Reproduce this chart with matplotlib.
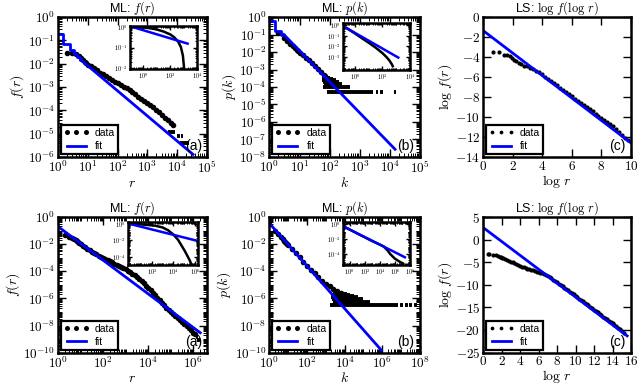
import matplotlib.pyplot as plt
import numpy as np
from matplotlib.ticker import FuncFormatter, FixedLocator, LogLocator, MultipleLocator

plt.rcParams["mathtext.fontset"] = "cm"
plt.rcParams["font.family"] = "Liberation Sans"

# ---- data (log10 values unless noted) ----
# top row, ML f(r)
a1_r = [0.30, 0.48, 0.60, 0.70, 0.78, 0.85, 0.90, 0.95, 1.00, 1.10, 1.20, 1.30, 1.40,
        1.50, 1.60, 1.70, 1.80, 1.90, 2.00, 2.10, 2.20, 2.30, 2.40, 2.50, 2.60, 2.70,
        2.80, 2.90, 3.00, 3.10, 3.20, 3.30, 3.40, 3.50, 3.60, 3.70, 3.80, 3.85]
a1_f = [-1.53, -1.55, -1.60, -1.68, -1.76, -1.84, -1.92, -1.98, -2.04, -2.12, -2.20,
        -2.29, -2.38, -2.46, -2.54, -2.62, -2.70, -2.77, -2.84, -2.91, -2.98, -3.05,
        -3.14, -3.23, -3.32, -3.41, -3.50, -3.59, -3.68, -3.78, -3.87, -3.98, -4.09,
        -4.20, -4.31, -4.43, -4.55, -4.62]
a1_tail_f = [-4.94, -5.08, -5.08, -5.40, -5.40, -5.40]
a1_tail_lo = [3.70, 4.00, 4.12, 4.10, 4.20, 4.30]
a1_tail_hi = [3.93, 4.08, 4.20, 4.18, 4.28, 4.38]
a1_fit_r = [1, 2, 3, 4, 5, 6, 34000]
a1_fit_f = [-0.72, -1.15, -1.42, -1.60, -1.73, -1.85, -5.89]

# top row, ML p(k)
b1_k = [0.30, 0.48, 0.60, 0.70, 0.78, 0.85, 0.90, 0.95, 1.00, 1.10, 1.20, 1.30, 1.40,
        1.50, 1.60, 1.70, 1.80, 1.85]
b1_p = [-0.92, -1.20, -1.38, -1.52, -1.65, -1.78, -1.86, -1.95, -2.03, -2.18, -2.33,
        -2.48, -2.63, -2.80, -2.97, -3.12, -3.30, -3.40]
b1_rows_p = [-4.30, -4.30, -4.30, -4.30, -4.00, -3.82, -3.70, -3.60, -3.52, -3.46]
b1_rows_lo = [1.90, 3.55, 3.68, 4.14, 1.79, 1.80, 1.78, 1.75, 1.75, 1.75]
b1_rows_hi = [3.45, 3.62, 3.78, 4.20, 2.67, 2.40, 2.30, 2.20, 2.10, 2.00]
b1_fit_k = [1, 2, 3, 15000]
b1_fit_p = [-0.25, -0.78, -1.00, -7.56]

# top row, LS (natural log)
c1_x = [0.69, 1.10, 1.39, 1.61, 1.79, 1.95, 2.08, 2.2, 2.4, 2.6, 2.8, 3.0, 3.2, 3.4,
        3.6, 3.8, 4.0, 4.2, 4.4, 4.6, 4.8, 5.0, 5.2, 5.4, 5.6, 5.8, 6.0, 6.2, 6.4, 6.6,
        6.8, 7.0, 7.2, 7.4, 7.6, 7.8, 8.0, 8.2, 8.4, 8.6, 8.8, 9.0, 9.2, 9.4, 9.6, 9.8]
c1_y = [-3.45, -3.45, -3.75, -3.80, -3.90, -4.10, -4.25, -4.35, -4.55, -4.70, -4.85,
        -4.90, -5.05, -5.20, -5.38, -5.55, -5.75, -5.97, -6.19, -6.41, -6.63, -6.85,
        -7.07, -7.29, -7.51, -7.73, -7.95, -8.17, -8.39, -8.61, -8.83, -9.05, -9.25,
        -9.45, -9.66, -9.86, -10.06, -10.27, -10.48, -10.70, -10.95, -11.20, -11.50,
        -11.80, -12.15, -12.35]
c1_fit_x = [0.0, 10.0]
c1_fit_y = [-1.35, -12.6]

# bottom row, ML f(r)
a2_r = [0.0, 0.30, 0.48, 0.60, 0.70, 0.78, 0.85, 0.90, 0.95, 1.0, 1.1, 1.2, 1.3, 1.4,
        1.5, 1.6, 1.7, 1.8, 1.9, 2.0, 2.1, 2.2, 2.3, 2.4, 2.5, 2.6, 2.7, 2.8, 2.9, 3.0,
        3.1, 3.2, 3.3, 3.4, 3.5, 3.6, 3.7, 3.8, 3.9, 4.0, 4.1, 4.2, 4.3, 4.4, 4.5, 4.6,
        4.7, 4.8, 4.9, 5.0, 5.1, 5.2, 5.3, 5.4, 5.5, 5.6, 5.7, 5.8, 5.9, 6.0, 6.05]
a2_f = [-1.15, -1.33, -1.45, -1.55, -1.64, -1.72, -1.80, -1.86, -1.92, -1.98, -2.12,
        -2.24, -2.35, -2.45, -2.55, -2.65, -2.75, -2.84, -2.93, -3.02, -3.10, -3.19,
        -3.27, -3.35, -3.43, -3.52, -3.60, -3.69, -3.77, -3.86, -3.95, -4.06, -4.17,
        -4.29, -4.42, -4.57, -4.72, -4.88, -5.05, -5.22, -5.40, -5.58, -5.77, -5.96,
        -6.15, -6.34, -6.52, -6.69, -6.85, -7.00, -7.15, -7.30, -7.45, -7.60, -7.75,
        -7.90, -8.05, -8.20, -8.35, -8.52, -8.60]
a2_tail_f = [-8.85, -9.04]
a2_tail_lo = [6.10, 6.15]
a2_tail_hi = [6.20, 6.30]
a2_fit_r = [1, 2.0e6]
a2_fit_f = [-0.70, -8.53]

# bottom row, ML p(k)
b2_k = [0.0, 0.30, 0.48, 0.60, 0.70, 0.78, 0.85, 0.90, 0.95, 1.0, 1.2, 1.4, 1.6, 1.8,
        2.0, 2.2, 2.4, 2.6, 2.8, 3.0, 3.2, 3.4, 3.6, 3.8]
b2_p = [-0.55, -1.00, -1.28, -1.46, -1.62, -1.74, -1.85, -1.93, -2.00, -2.08, -2.38,
        -2.68, -2.98, -3.28, -3.58, -3.88, -4.15, -4.42, -4.68, -4.92, -5.12, -5.30,
        -5.45, -5.58]
b2_rows_p = [-6.50, -6.50, -6.50, -6.50, -6.50, -6.26, -6.02, -5.90, -5.80, -5.72, -5.65]
b2_rows_lo = [3.20, 6.95, 7.20, 7.45, 7.70, 3.40, 3.35, 3.30, 3.30, 3.35, 3.40]
b2_rows_hi = [6.85, 7.10, 7.35, 7.60, 7.85, 5.35, 5.00, 4.70, 4.50, 4.30, 4.10]
b2_fit_k = [1, 8.9e5]
b2_fit_p = [-0.47, -9.81]

# bottom row, LS (natural log)
c2_x = [0.54, 0.69, 1.10, 1.39, 1.61, 1.79, 1.95, 2.08, 2.2, 2.4, 2.6, 2.8, 3.0, 3.2,
        3.4, 3.6, 3.8, 4.0, 4.2, 4.4, 4.6, 4.8, 5.0, 5.2, 5.4, 5.6, 5.8, 6.0, 6.2, 6.4,
        6.6, 6.8, 7.0, 7.2, 7.4, 7.6, 7.8, 8.0, 8.2, 8.4, 8.6, 8.8, 9.0, 9.2, 9.4, 9.6,
        9.8, 10.0, 10.2, 10.4, 10.6, 10.8, 11.0, 11.2, 11.4, 11.6, 11.8, 12.0, 12.2,
        12.4, 12.6, 12.8, 13.0, 13.2, 13.4, 13.6, 13.8, 14.0, 14.2, 14.4, 14.6, 14.8,
        15.0, 15.2]
c2_y = [-3.10, -3.20, -3.35, -3.45, -3.60, -3.75, -3.90, -4.00, -4.10, -4.30, -4.48,
        -4.66, -4.84, -5.02, -5.20, -5.40, -5.60, -5.80, -5.98, -6.14, -6.30, -6.45,
        -6.58, -6.70, -6.82, -6.94, -7.06, -7.18, -7.32, -7.48, -7.66, -7.86, -8.08,
        -8.32, -8.58, -8.85, -9.13, -9.42, -9.72, -10.02, -10.32, -10.62, -10.92,
        -11.22, -11.52, -11.82, -12.12, -12.42, -12.72, -13.02, -13.32, -13.62, -13.94,
        -14.24, -14.55, -14.85, -15.16, -15.46, -15.77, -16.08, -16.38, -16.69, -17.00,
        -17.30, -17.62, -17.92, -18.23, -18.54, -18.85, -19.16, -19.46, -19.80, -20.20,
        -20.60]
c2_fit_x = [0.0, 15.58]
c2_fit_y = [2.69, -21.28]

# insets: complementary cumulative curves (log10)
ia1_x = [-0.96, 0.0, 0.5, 1.0, 1.5, 2.0, 2.3, 2.6, 2.8, 2.95, 3.05]
ia1_y = [0.0, -0.02, -0.06, -0.12, -0.22, -0.36, -0.50, -0.72, -0.98, -1.40, -2.10]
ia1_fit_x = [-0.75, 3.3]
ia1_fit_y = [-0.01, -0.81]
ib1_x = [-0.59, 0.0, 0.5, 1.0, 1.5, 2.0, 2.3, 2.5, 2.7, 2.75]
ib1_y = [-0.30, -0.78, -1.22, -1.65, -2.10, -2.62, -3.00, -3.30, -3.70, -3.85]
ib1_fit_x = [-0.59, 3.15]
ib1_fit_y = [-0.29, -3.04]
ia2_x = [-0.04, 1.0, 2.28, 3.0, 3.52, 4.0, 4.45, 5.07, 5.54, 5.7]
ia2_y = [0.0, -0.08, -0.23, -0.45, -0.80, -1.30, -1.96, -3.30, -4.46, -5.0]
ia2_fit_x = [-0.04, 6.28]
ia2_fit_y = [-0.03, -2.08]
ib2_x = [-0.64, 1.0, 2.0, 3.0, 4.0, 4.5, 5.0, 5.4, 6.0, 6.7, 7.1]
ib2_y = [-0.41, -1.25, -1.75, -2.25, -2.70, -2.95, -3.45, -3.97, -4.56, -5.0, -5.2]
ib2_fit_x = [-0.64, 7.32]
ib2_fit_y = [-0.41, -4.37]


def p10(v):
    return 10.0 ** np.asarray(v, dtype=float)


def log_fmt(v, pos):
    return r"$10^{%d}$" % round(np.log10(v))


def lin_fmt(v, pos):
    return r"$%d$" % round(v)


def frame(ax, size=9.5, major=6, minor=3, lw=1.8, pad=2.0):
    ax.tick_params(which="both", direction="in", top=True, right=True,
                   labelsize=size, pad=pad)
    ax.tick_params(which="major", length=major, width=1)
    ax.tick_params(which="minor", length=minor, width=0.7)
    for s in ax.spines.values():
        s.set_linewidth(lw)


def log_axes(ax, xlim, ylim, xbase, ybase, xticks=None, yticks=None):
    ax.set_xscale("log")
    ax.set_yscale("log")
    ax.set_xlim(xlim)
    ax.set_ylim(ylim)
    for axis, base, ticks in ((ax.xaxis, xbase, xticks), (ax.yaxis, ybase, yticks)):
        if ticks is None:
            axis.set_major_locator(LogLocator(base=base, numticks=30))
        else:
            axis.set_major_locator(FixedLocator(ticks))
        axis.set_minor_locator(LogLocator(base=10, subs=np.arange(1, 10), numticks=100))
        axis.set_major_formatter(FuncFormatter(log_fmt))
        axis.set_minor_formatter(plt.NullFormatter())


def data_plot(ax, x, y, ms=4.0):
    return ax.plot(x, y, "o", color="black", ms=ms, mew=0, label="data")


def rows(ax, lvl, lo, hi, lw=2.8):
    ax.hlines(lvl, lo, hi, color="black", lw=lw)


def legend(ax):
    lg = ax.legend(loc="lower left", fontsize=7.5, numpoints=3, fancybox=False,
                   framealpha=1, edgecolor="black", borderaxespad=0.25,
                   handlelength=2.4, borderpad=0.3, labelspacing=0.3,
                   handletextpad=0.6, markerscale=0.9)
    lg.get_frame().set_linewidth(1.6)


def labels(ax, title, xl, yl):
    ax.set_title(title, fontsize=9, pad=1.5)
    ax.set_xlabel(xl, fontsize=10, labelpad=0)
    ax.set_ylabel(yl, fontsize=10, labelpad=1)


def tag(ax, s):
    ax.text(0.965, 0.03, s, transform=ax.transAxes, ha="right", va="bottom", fontsize=10)


def inset(fig, rect, cx, cy, fx, fy, xlim, ylim, xticks, yticks):
    ia = fig.add_axes(rect)
    ia.plot(p10(cx), p10(cy), color="black", lw=1.8)
    ia.plot(p10(fx), p10(fy), color="blue", lw=1.8)
    log_axes(ia, xlim, ylim, 10, 10, xticks, yticks)
    frame(ia, size=4.5, major=3, minor=1.5, lw=1.8, pad=1.5)
    return ia


fig = plt.figure(figsize=(6.4, 3.91), dpi=100)

col_l = [0.0906, 0.421, 0.7547]
col_w = [0.2328, 0.235, 0.2313]
row_b = [0.5985, 0.0980]
row_h = [0.3580, 0.3470]

# ---- top row ----
ax = fig.add_axes([col_l[0], row_b[0], col_w[0], row_h[0]])
data_plot(ax, p10(a1_r), p10(a1_f))
rows(ax, p10(a1_tail_f), p10(a1_tail_lo), p10(a1_tail_hi))
ax.step(a1_fit_r[:6], p10(a1_fit_f[:6]), where="mid", color="blue", lw=2, label="fit")
ax.plot(a1_fit_r[5:], p10(a1_fit_f[5:]), color="blue", lw=2)
log_axes(ax, (1, 1e5), (1e-6, 1), 10, 10)
frame(ax)
labels(ax, r"ML: $f(r)$", r"$r$", r"$f(r)$")
legend(ax)
tag(ax, "(a)")

ax = fig.add_axes([col_l[1], row_b[0], col_w[1], row_h[0]])
data_plot(ax, p10(b1_k), p10(b1_p))
rows(ax, p10(b1_rows_p), p10(b1_rows_lo), p10(b1_rows_hi))
ax.step(b1_fit_k[:3], p10(b1_fit_p[:3]), where="mid", color="blue", lw=2, label="fit")
ax.plot(b1_fit_k[2:], p10(b1_fit_p[2:]), color="blue", lw=2)
log_axes(ax, (1, 1e5), (1e-8, 1), 10, 10)
frame(ax)
labels(ax, r"ML: $p(k)$", r"$k$", r"$p(k)$")
legend(ax)
tag(ax, "(b)")

ax = fig.add_axes([col_l[2], row_b[0], col_w[2], row_h[0]])
data_plot(ax, c1_x, c1_y, ms=3.0)
ax.plot(c1_fit_x, c1_fit_y, color="blue", lw=2, label="fit")
ax.set_xlim(0, 10)
ax.set_ylim(-14, 0)
ax.xaxis.set_major_locator(MultipleLocator(2))
ax.yaxis.set_major_locator(MultipleLocator(2))
ax.xaxis.set_major_formatter(FuncFormatter(lin_fmt))
ax.yaxis.set_major_formatter(FuncFormatter(lin_fmt))
frame(ax)
labels(ax, r"LS: $\log\,f(\log\,r)$", r"$\log\,r$", r"$\log\,f(r)$")
legend(ax)
tag(ax, "(c)")

# ---- bottom row ----
ax = fig.add_axes([col_l[0], row_b[1], col_w[0], row_h[1]])
data_plot(ax, p10(a2_r), p10(a2_f))
rows(ax, p10(a2_tail_f), p10(a2_tail_lo), p10(a2_tail_hi))
ax.plot(a2_fit_r, p10(a2_fit_f), color="blue", lw=2, label="fit")
log_axes(ax, (1, 10 ** 6.6), (1e-10, 1), 100, 100)
frame(ax)
labels(ax, r"ML: $f(r)$", r"$r$", r"$f(r)$")
legend(ax)
tag(ax, "(a)")

ax = fig.add_axes([col_l[1], row_b[1], col_w[1], row_h[1]])
data_plot(ax, p10(b2_k), p10(b2_p))
rows(ax, p10(b2_rows_p), p10(b2_rows_lo), p10(b2_rows_hi))
ax.plot(b2_fit_k, p10(b2_fit_p), color="blue", lw=2, label="fit")
log_axes(ax, (1, 1e8), (1e-10, 1), 100, 100)
frame(ax)
labels(ax, r"ML: $p(k)$", r"$k$", r"$p(k)$")
legend(ax)
tag(ax, "(b)")

ax = fig.add_axes([col_l[2], row_b[1], col_w[2], row_h[1]])
data_plot(ax, c2_x, c2_y, ms=3.0)
ax.plot(c2_fit_x, c2_fit_y, color="blue", lw=2, label="fit")
ax.set_xlim(0, 16)
ax.set_ylim(-25, 5)
ax.xaxis.set_major_locator(MultipleLocator(2))
ax.yaxis.set_major_locator(MultipleLocator(5))
ax.xaxis.set_major_formatter(FuncFormatter(lin_fmt))
ax.yaxis.set_major_formatter(FuncFormatter(lin_fmt))
frame(ax)
labels(ax, r"LS: $\log\,f(\log\,r)$", r"$\log\,r$", r"$\log\,f(r)$")
legend(ax)
tag(ax, "(c)")

# ---- insets ----
inset(fig, [0.2031, 0.8235, 0.1047, 0.110], ia1_x, ia1_y, ia1_fit_x, ia1_fit_y,
      (10 ** -1.0, 1e4), (10 ** -2.05, 10 ** 0.05), [1, 1e2, 1e4], [1, 1e-1, 1e-2])
inset(fig, [0.5359, 0.8210, 0.1047, 0.1202], ib1_x, ib1_y, ib1_fit_x, ib1_fit_y,
      (10 ** -0.86, 1e4), (10 ** -4.2, 10 ** 0.19), [1, 1e2, 1e4], [1, 1e-1, 1e-2, 1e-3])
inset(fig, [0.2000, 0.3220, 0.1094, 0.1100], ia2_x, ia2_y, ia2_fit_x, ia2_fit_y,
      (10 ** -0.23, 10 ** 6.3), (1e-5, 10 ** 0.2), [1e2, 1e4, 1e6], [1, 1e-2, 1e-4])
inset(fig, [0.5359, 0.3220, 0.1047, 0.1100], ib2_x, ib2_y, ib2_fit_x, ib2_fit_y,
      (10 ** -0.9, 1e8), (10 ** -5.4, 10 ** 0.25), [1, 1e2, 1e4, 1e6, 1e8], [1, 1e-2, 1e-4])

fig.savefig("out.png", dpi=100)
